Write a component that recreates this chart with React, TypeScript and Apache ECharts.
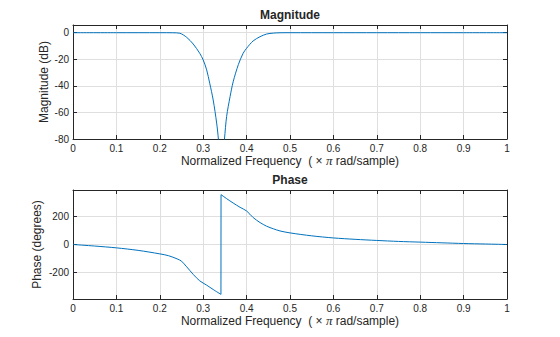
import React, { useEffect, useRef } from "react";
import * as echarts from "echarts";

const magFreq = [0, 0.1, 0.2, 0.23, 0.246, 0.262, 0.277, 0.292, 0.3, 0.308, 0.315, 0.323, 0.331, 0.335, 0.337, 0.3405, 0.346, 0.349, 0.354, 0.362, 0.369, 0.381, 0.392, 0.4, 0.415, 0.431, 0.446, 0.462, 0.477, 0.5, 0.6, 0.7, 0.8, 0.9, 1];
const magDb = [0, 0, 0, -0.05, -0.4, -3.5, -8.5, -15.5, -20.5, -28, -38, -50.6, -68, -80, -90, -120, -90, -80, -63, -48, -37, -24, -15.5, -11.7, -6.2, -3, -1, -0.3, -0.05, 0, 0, 0, 0, 0, 0];

const phaseFreq = [0, 0.05, 0.1, 0.15, 0.2, 0.22, 0.24, 0.25, 0.262, 0.277, 0.292, 0.308, 0.323, 0.3409, 0.3411, 0.354, 0.369, 0.385, 0.4, 0.415, 0.431, 0.446, 0.462, 0.477, 0.5, 0.55, 0.6, 0.65, 0.7, 0.75, 0.8, 0.85, 0.9, 0.95, 1];
const phaseDeg = [0, -11, -24, -42, -67, -80, -103, -119, -160, -214, -260, -291, -322, -357, 357, 328, 297, 266, 240, 193, 157, 131, 112, 97, 83, 62, 47, 37, 29, 22, 17, 12, 7, 3.5, 0];

const freqTicks = [0, 0.1, 0.2, 0.3, 0.4, 0.5, 0.6, 0.7, 0.8, 0.9, 1];
const magTicks = [-80, -60, -40, -20, 0];
const phaseTicks = [-200, 0, 200];

const FONT = "'Liberation Sans', Arial, Helvetica, sans-serif";
const INK = "#262626";
const GRIDC = "#dfdfdf";
const LINE = "#0072BD";

export default function App() {
  const ref = useRef<HTMLDivElement>(null);
  useEffect(() => {
    if (!ref.current) return;
    const chart = echarts.init(ref.current, undefined, { renderer: "svg" });
    const xName = "Normalized Frequency  ( × {i|π} rad/sample)";
    const nameRich = { i: { fontStyle: "italic", fontFamily: "'Liberation Serif', serif", fontSize: 13, color: INK } };
    const mkX = (gi: number) => ({
      type: "value",
      gridIndex: gi,
      min: 0,
      max: 1,
      interval: 0.1,
      name: xName,
      nameLocation: "middle",
      nameGap: 15,
      nameMoveOverlap: false,
      nameTextStyle: { fontFamily: FONT, fontSize: 12, color: INK, rich: nameRich },
      axisLine: { show: true, onZero: false, lineStyle: { color: INK, width: 1 } },
      axisTick: { show: true, inside: true, length: 4, customValues: freqTicks, lineStyle: { color: INK } },
      axisLabel: { fontFamily: FONT, fontSize: 10, color: INK, margin: 4, customValues: freqTicks, formatter: (v: number) => String(Math.round(v * 10) / 10) },
      splitLine: { show: true, lineStyle: { color: GRIDC, width: 1 } },
    });
    const mkXTop = (gi: number) => ({
      type: "value",
      gridIndex: gi,
      position: "top",
      min: 0,
      max: 1,
      interval: 0.1,
      axisLine: { show: true, onZero: false, lineStyle: { color: INK, width: 1 } },
      axisTick: { show: true, inside: true, length: 4, customValues: freqTicks, lineStyle: { color: INK } },
      axisLabel: { show: false },
      splitLine: { show: false },
    });
    const mkY = (gi: number, min: number, max: number, ticks: number[], name: string, gap: number) => ({
      type: "value",
      gridIndex: gi,
      min,
      max,
      name,
      nameLocation: "middle",
      nameGap: gap,
      nameMoveOverlap: false,
      nameTextStyle: { fontFamily: FONT, fontSize: 12, color: INK },
      axisLine: { show: true, onZero: false, lineStyle: { color: INK, width: 1 } },
      axisTick: { show: true, inside: true, length: 4, customValues: ticks, lineStyle: { color: INK } },
      axisLabel: { fontFamily: FONT, fontSize: 10, color: INK, margin: 4, customValues: ticks },
      splitLine: { show: true, lineStyle: { color: GRIDC, width: 1 } },
    });
    const mkYRight = (gi: number, min: number, max: number, ticks: number[]) => ({
      type: "value",
      gridIndex: gi,
      position: "right",
      min,
      max,
      axisLine: { show: true, onZero: false, lineStyle: { color: INK, width: 1 } },
      axisTick: { show: true, inside: true, length: 4, customValues: ticks, lineStyle: { color: INK } },
      axisLabel: { show: false },
      splitLine: { show: false },
    });
    const phasePts = phaseFreq.map((f, i) => [f, phaseDeg[i]]);
    const jump = phaseDeg.findIndex((v, i) => i > 0 && v - phaseDeg[i - 1] > 300);
    const lineBase = {
      type: "line",
      showSymbol: false,
      clip: true,
      lineStyle: { color: LINE, width: 1 },
      itemStyle: { color: LINE },
    };
    chart.setOption({
      animation: false,
      backgroundColor: "#ffffff",
      title: [
        { text: "Magnitude", left: 290, top: 9, textAlign: "center", padding: 0, textStyle: { fontFamily: FONT, fontSize: 12, fontWeight: "bold", color: INK } },
        { text: "Phase", left: 290, top: 174, textAlign: "center", padding: 0, textStyle: { fontFamily: FONT, fontSize: 12, fontWeight: "bold", color: INK } },
      ],
      grid: [
        { left: 73, right: 53, top: 25, height: 114 },
        { left: 73, right: 53, top: 190, height: 109 },
      ],
      xAxis: [mkX(0), mkX(1), mkXTop(0), mkXTop(1)],
      yAxis: [
        mkY(0, -80, 5.8, magTicks, "Magnitude (dB)", 23),
        mkY(1, -390, 390, phaseTicks, "Phase (degrees)", 30),
        mkYRight(0, -80, 5.8, magTicks),
        mkYRight(1, -390, 390, phaseTicks),
      ],
      series: [
        { ...lineBase, name: "Magnitude", xAxisIndex: 0, yAxisIndex: 0, data: magFreq.map((f, i) => [f, magDb[i]]), smooth: 0.3 },
        { ...lineBase, name: "Phase", xAxisIndex: 1, yAxisIndex: 1, data: phasePts.slice(0, jump), smooth: 0.3 },
        { ...lineBase, name: "Phase", xAxisIndex: 1, yAxisIndex: 1, data: phasePts.slice(jump - 1, jump + 1), smooth: false },
        { ...lineBase, name: "Phase", xAxisIndex: 1, yAxisIndex: 1, data: phasePts.slice(jump), smooth: 0.3 },
      ],
    });
    return () => chart.dispose();
  }, []);
  return <div ref={ref} style={{ position: "fixed", left: 0, top: 0, width: 560, height: 337, background: "#fff" }} />;
}
